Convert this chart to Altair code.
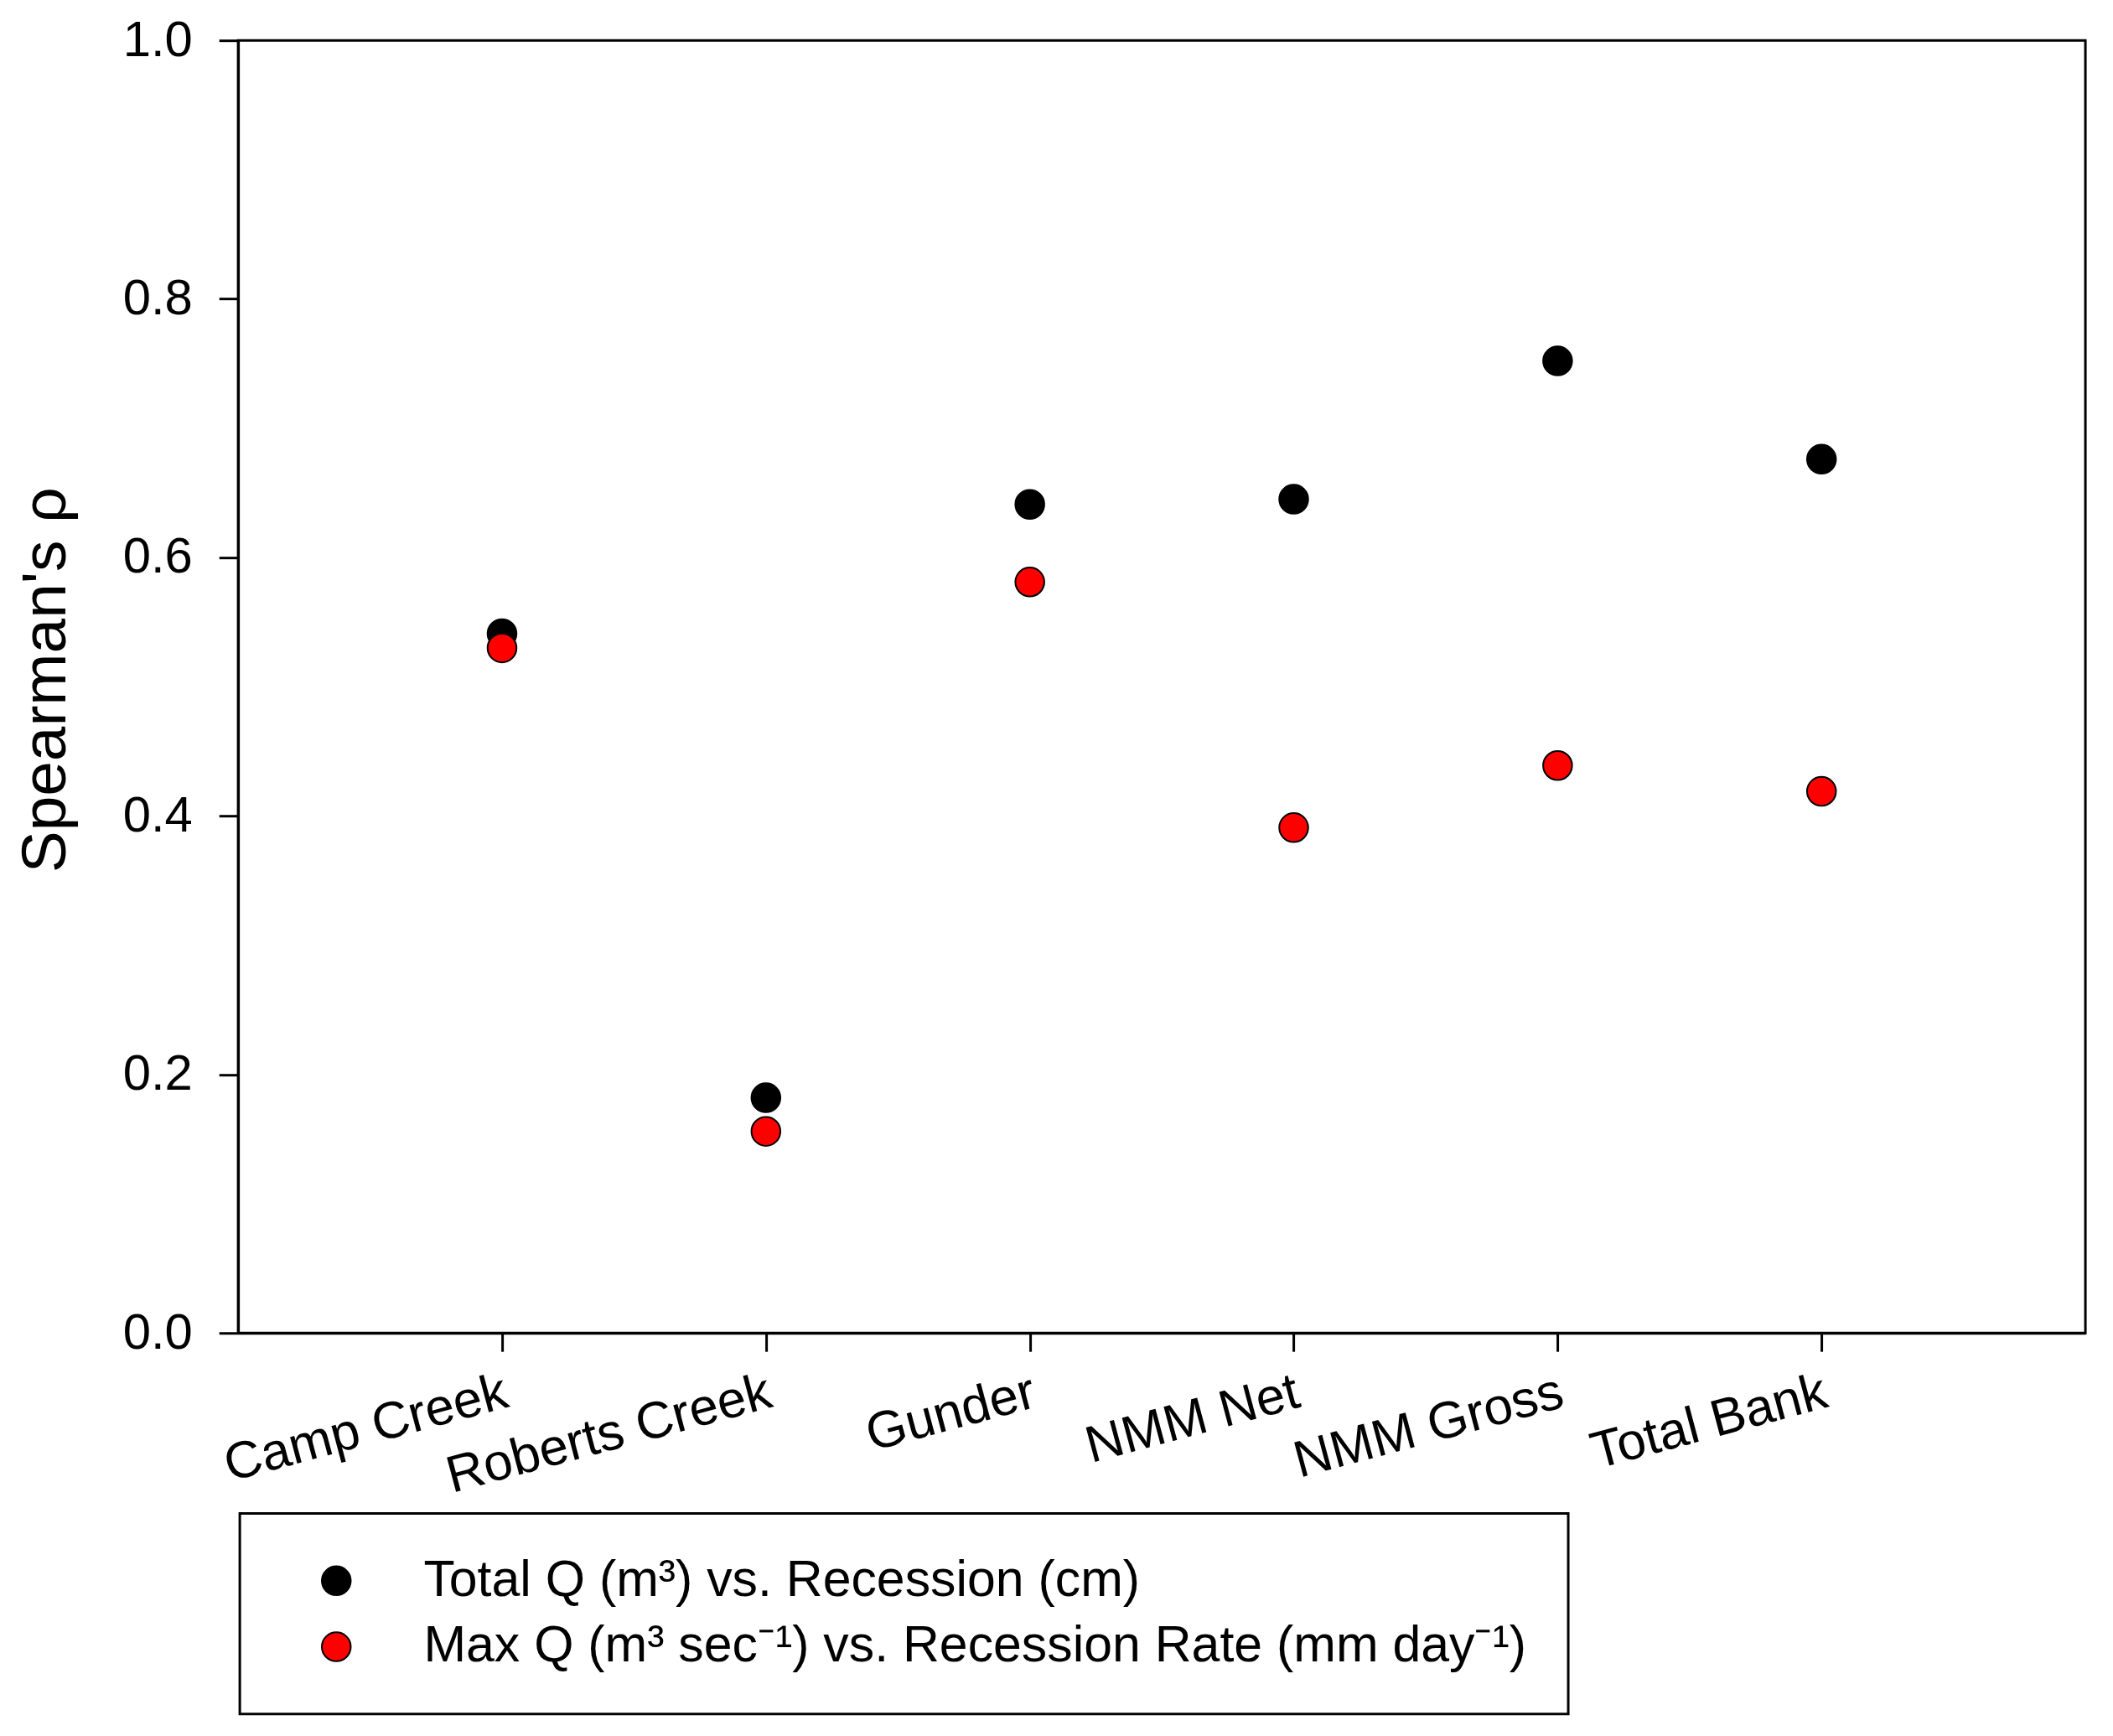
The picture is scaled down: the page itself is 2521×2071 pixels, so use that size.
import altair as alt
import pandas as pd

sites = ["Camp Creek", "Roberts Creek", "Gunder", "NMM Net", "NMM Gross", "Total Bank"]
total_q = [0.541, 0.182, 0.641, 0.645, 0.752, 0.676]
max_q = [0.530, 0.156, 0.581, 0.391, 0.439, 0.419]
series = ["Total Q (m³) vs. Recession (cm)",
          "Max Q (m³ sec⁻¹) vs. Recession Rate (mm day⁻¹)"]
colors = ["#000000", "#ff0000"]
y_ticks = [0.0, 0.2, 0.4, 0.6, 0.8, 1.0]

rows = []
for s, v in zip(sites, total_q):
    rows.append({"site": s, "rho": v, "series": series[0], "ord": 0})
for s, v in zip(sites, max_q):
    rows.append({"site": s, "rho": v, "series": series[1], "ord": 1})
df = pd.DataFrame(rows)

FONT = "Liberation Sans"

chart = alt.Chart(df).mark_circle(
    size=1200, stroke="black", strokeWidth=2, opacity=1
).encode(
    x=alt.X("site:N", sort=sites,
            scale=alt.Scale(type="point", padding=1),
            axis=alt.Axis(title=None, labelAngle=345, labelAlign="right",
                          labelBaseline="top", labelFontSize=62,
                          labelPadding=18, labelOffset=-3, tickSize=22,
                          labelLimit=2000, labelOverlap=False)),
    y=alt.Y("rho:Q", scale=alt.Scale(domain=[0, 1]),
            axis=alt.Axis(values=y_ticks, format=".1f", title="Spearman's ρ",
                          labelFontSize=60, labelPadding=32, tickSize=23,
                          titleFontSize=75, titleFontWeight="normal",
                          titleAngle=270, titleX=-207, titleY=765,
                          titleAlign="center", titleBaseline="alphabetic")),
    fill=alt.Fill("series:N",
                  scale=alt.Scale(domain=series, range=colors),
                  legend=alt.Legend(title=None, orient="none", legendX=2,
                                    legendY=1763, strokeColor="black",
                                    padding=50, symbolOffset=35,
                                    symbolSize=1200, symbolType="circle",
                                    symbolStrokeColor="black",
                                    symbolStrokeWidth=2, labelFontSize=61,
                                    labelOffset=74, labelLimit=3000,
                                    rowPadding=17, labelColor="black")),
    order=alt.Order("ord:Q"),
).properties(
    width=2211, height=1547, autosize="none",
    padding={"left": 277, "top": 37, "right": 25, "bottom": 479},
).configure_view(
    stroke="black", strokeWidth=3
).configure_axis(
    grid=False, labelFont=FONT, titleFont=FONT, labelColor="black",
    titleColor="black", tickColor="black", domainColor="black",
    tickWidth=3, domainWidth=3
).configure_legend(
    labelFont=FONT, strokeWidth=3
)

chart.save("out.html", embed_options={"renderer": "svg", "actions": False})
